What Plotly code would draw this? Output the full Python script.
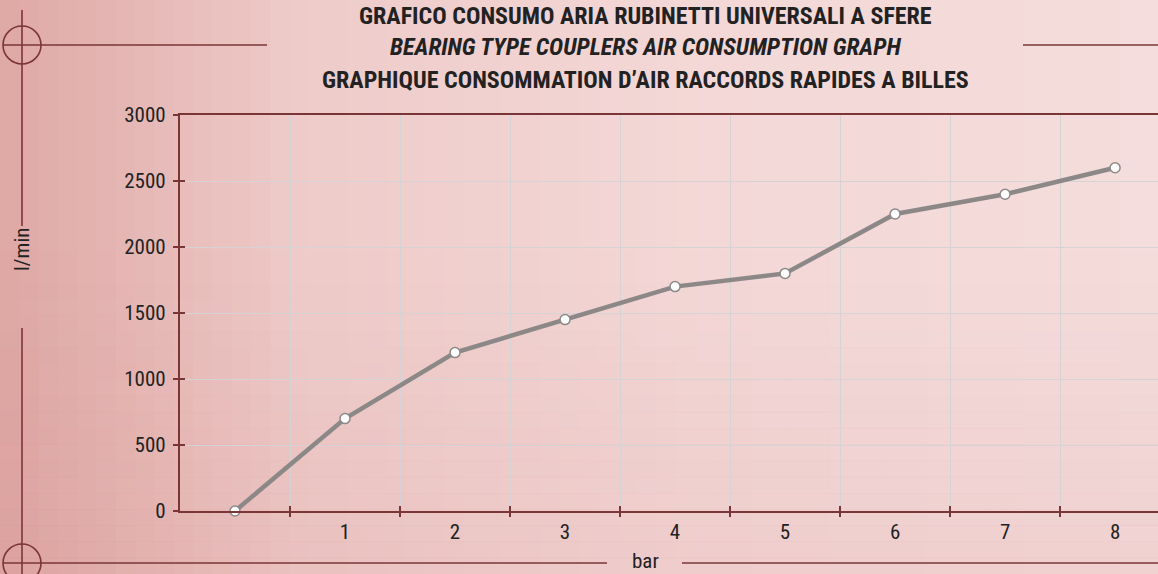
import plotly.graph_objects as go

# ---------------- data ----------------
pressure_bar = [0, 1, 2, 3, 4, 5, 6, 7, 8]
air_consumption_lmin = [0, 700, 1200, 1450, 1700, 1800, 2250, 2400, 2600]
x_label_vals = [1, 2, 3, 4, 5, 6, 7, 8]
x_label_text = ["1", "2", "3", "4", "5", "6", "7", "8"]
x_tick_vals = [0.5, 1.5, 2.5, 3.5, 4.5, 5.5, 6.5, 7.5]
y_tick_vals = [0, 500, 1000, 1500, 2000, 2500, 3000]
y_tick_text = ["0", "500", "1000", "1500", "2000", "2500", "3000"]
title_lines = [
    "GRAFICO CONSUMO ARIA RUBINETTI UNIVERSALI A SFERE",
    "<i>BEARING TYPE COUPLERS AIR CONSUMPTION GRAPH</i>",
    "GRAPHIQUE CONSOMMATION D\u2019AIR RACCORDS RAPIDES A BILLES",
]
x_title = "bar"
y_title = "l/min"

# ---------------- layout geometry ----------------
W, H = 1158, 574
L, R, T, B = 180, 1158, 115, 511
X_RANGE = [-0.5, 8.39]
Y_RANGE = [0, 3000]

FONT = "Roboto Condensed, Liberation Sans Narrow, Roboto, sans-serif"
DARK = "#7a3636"
GRID = "#d6d3d6"
TXT = "#222222"


def px(x):
    return (x - L) / (R - L)


def py(y):
    return (B - y) / (B - T)


def lerp(c0, c1, t):
    return tuple(round(a + (b - a) * t) for a, b in zip(c0, c1))


shapes = []

# background gradient (left darker -> right lighter)
stops = [(0, (222, 168, 165)), (300, (238, 203, 201)), (700, (243, 216, 215)), (1158, (244, 221, 220))]
N = 60
for i in range(N):
    x0 = i * W / N
    x1 = (i + 1) * W / N
    xc = (x0 + x1) / 2
    for k in range(len(stops) - 1):
        if stops[k][0] <= xc <= stops[k + 1][0]:
            t = (xc - stops[k][0]) / (stops[k + 1][0] - stops[k][0])
            c = lerp(stops[k][1], stops[k + 1][1], t)
            break
    shapes.append(dict(type="rect", xref="paper", yref="paper", x0=px(x0), x1=px(x1 + 1),
                       y0=py(H), y1=py(0), fillcolor="rgb(%d,%d,%d)" % c, line_width=0, layer="below"))
# vertical darkening toward bottom
M = 20
for j in range(M):
    y0 = 250 + j * (H - 250) / M
    y1 = 250 + (j + 1) * (H - 250) / M
    a = 0.10 * ((j + 0.5) / M)
    shapes.append(dict(type="rect", xref="paper", yref="paper", x0=px(0), x1=px(W),
                       y0=py(y1 + 0.5), y1=py(y0), fillcolor="rgba(200,110,110,%.3f)" % a,
                       line_width=0, layer="below"))


def hline(x0, x1, y, w=1.6):
    shapes.append(dict(type="line", xref="paper", yref="paper", x0=px(x0), x1=px(x1),
                       y0=py(y), y1=py(y), line=dict(color=DARK, width=w), layer="above"))


def vline(x, y0, y1, w=1.6):
    shapes.append(dict(type="line", xref="paper", yref="paper", x0=px(x), x1=px(x),
                       y0=py(y0), y1=py(y1), line=dict(color=DARK, width=w), layer="above"))


def circle(cx, cy, r, w=1.6):
    shapes.append(dict(type="circle", xref="paper", yref="paper", x0=px(cx - r), x1=px(cx + r),
                       y0=py(cy + r), y1=py(cy - r), line=dict(color=DARK, width=w), layer="above"))


# decorative frame lines
hline(3, 267, 45)
hline(1023, 1158, 45)
hline(3, 607, 563)
hline(682, 1158, 563)
vline(22, 10, 226)
vline(22, 328, 574)
circle(22, 45, 19)
circle(22, 563, 19)

fig = go.Figure()

# dummy traces to materialise overlay axes
for ax in ["x2", "x3", "x4"]:
    fig.add_trace(go.Scatter(x=[None], y=[None], xaxis=ax, yaxis="y", showlegend=False, hoverinfo="skip"))
fig.add_trace(go.Scatter(x=[None], y=[None], xaxis="x", yaxis="y2", showlegend=False, hoverinfo="skip"))

fig.add_trace(go.Scatter(
    x=pressure_bar, y=air_consumption_lmin, mode="lines+markers",
    line=dict(color="#8d8888", width=4.5),
    marker=dict(size=10, color="white", line=dict(color="#8d8888", width=1.5)),
    cliponaxis=False, showlegend=False,
))

tickfont = dict(family=FONT, size=21, color=TXT)

annotations = []
title_y = [16, 47, 80]
for line, yc in zip(title_lines, title_y):
    annotations.append(dict(text=line, xref="paper", yref="paper", x=px(645), y=py(yc),
                            xanchor="center", yanchor="middle", showarrow=False,
                            font=dict(family=FONT, size=24, color=TXT, weight="bold")))
annotations.append(dict(text=x_title, xref="paper", yref="paper", x=px(645), y=py(561), xanchor="center",
                        yanchor="middle", showarrow=False, font=dict(family=FONT, size=21, color=TXT)))
annotations.append(dict(text=y_title, xref="paper", yref="paper", x=px(22), y=py(250), xanchor="center",
                        yanchor="middle", textangle=-90, showarrow=False, font=dict(family=FONT, size=21, color=TXT)))

fig.update_layout(
    width=W, height=H,
    margin=dict(l=L, r=W - R, t=T, b=H - B, pad=0),
    paper_bgcolor="rgb(240,210,208)",
    plot_bgcolor="rgba(0,0,0,0)",
    showlegend=False,
    shapes=shapes,
    annotations=annotations,
    xaxis=dict(
        range=X_RANGE, tickmode="array", tickvals=x_label_vals, ticktext=x_label_text,
        ticks="", showgrid=False, zeroline=False, showline=True, linecolor=DARK, linewidth=1.6,
        tickfont=tickfont, ticklabelstandoff=1,
    ),
    xaxis2=dict(
        range=X_RANGE, overlaying="x", anchor="y", side="bottom", tickmode="array",
        tickvals=x_tick_vals, ticks="outside", ticklen=5, tickwidth=1.6, tickcolor=DARK,
        showticklabels=False, showgrid=True, gridcolor=GRID, gridwidth=1, zeroline=False, showline=False,
    ),
    xaxis3=dict(
        range=X_RANGE, overlaying="x", anchor="y", side="bottom", tickmode="array",
        tickvals=x_tick_vals, ticks="inside", ticklen=5, tickwidth=1.6, tickcolor=DARK,
        showticklabels=False, showgrid=False, zeroline=False, showline=False,
    ),
    xaxis4=dict(
        range=X_RANGE, overlaying="x", anchor="y", side="top", showticklabels=False, ticks="",
        showgrid=False, zeroline=False, showline=True, linecolor=DARK, linewidth=1.6,
    ),
    yaxis=dict(
        range=Y_RANGE, tickmode="array", tickvals=y_tick_vals, ticktext=y_tick_text,
        ticks="outside", ticklen=5, tickwidth=1.6, tickcolor=DARK,
        showgrid=True, gridcolor=GRID, gridwidth=1, zeroline=False,
        showline=True, linecolor=DARK, linewidth=2.2, tickfont=tickfont, ticklabelstandoff=3,
    ),
    yaxis2=dict(
        range=Y_RANGE, overlaying="y", anchor="x", side="left", tickmode="array",
        tickvals=y_tick_vals, ticks="inside", ticklen=5, tickwidth=1.6, tickcolor=DARK,
        showticklabels=False, showgrid=False, zeroline=False, showline=False,
    ),
)

fig.write_html("out.html", config={"displayModeBar": False},
               post_script="document.body.style.margin='0';document.body.style.overflow='hidden';")
